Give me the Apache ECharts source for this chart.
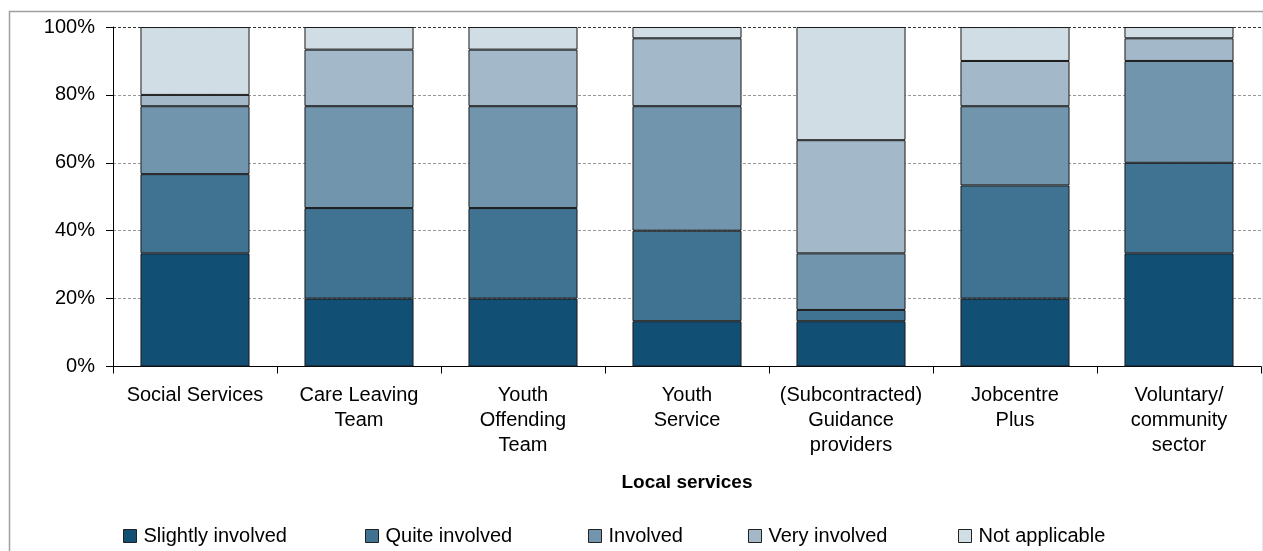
<!DOCTYPE html>
<html>
<head>
<meta charset="utf-8">
<script src="https://cdn.jsdelivr.net/npm/echarts@6/dist/echarts.min.js"></script>
<style>
	html, body { margin: 0; padding: 0; background: #fff; }
	#chartDiv { width: 1263px; height: 551px; }
</style>
</head>
<body>
<div id="chartDiv"></div>
<script>
// categories (line breaks as in the original labels)
const categories = ['Social Services', 'Care Leaving\nTeam', 'Youth\nOffending\nTeam', 'Youth\nService',
	'(Subcontracted)\nGuidance\nproviders', 'Jobcentre\nPlus', 'Voluntary/\ncommunity\nsector'];

// percentages per category, bottom to top
const slightlyInvolved = [33.33, 20, 20, 13.33, 13.33, 20, 33.33];
const quiteInvolved = [23.33, 26.67, 26.67, 26.67, 3.33, 33.33, 26.67];
const involved = [20, 30, 30, 36.67, 16.67, 23.33, 30];
const veryInvolved = [3.33, 16.67, 16.67, 20, 33.33, 13.33, 6.67];
const notApplicable = [20, 6.66, 6.66, 3.33, 33.34, 10, 3.33];

const seriesNames = ['Slightly involved', 'Quite involved', 'Involved', 'Very involved', 'Not applicable'];
const seriesData = [slightlyInvolved, quiteInvolved, involved, veryInvolved, notApplicable];
const seriesColors = ['#114f74', '#407291', '#7295ae', '#a3b8c8', '#d0dde4'];
const legendLeft = [118, 360, 583, 743, 953];

const font = "'Liberation Sans', Arial, sans-serif";

let chart = echarts.init(document.getElementById('chartDiv'));
let option = {
	animation: false,
	color: seriesColors,
	textStyle: { fontFamily: font, color: '#000' },
	graphic: [{
		type: 'rect',
		left: 7, top: 9,
		shape: { width: 1254, height: 600 },
		style: { fill: 'none', stroke: '#a0a0a0', lineWidth: 1.5 },
		silent: true
	}],
	grid: { left: 113, right: 2, top: 27, bottom: 184.5 },
	legend: seriesNames.map((n, i) => ({
		data: [n],
		left: legendLeft[i],
		top: 521,
		icon: 'rect',
		itemWidth: 13,
		itemHeight: 13,
		itemGap: 0,
		selectedMode: false,
		itemStyle: { borderColor: '#222', borderWidth: 1 },
		textStyle: { fontFamily: font, fontSize: 20, color: '#000', padding: [0, 0, 0, 2] }
	})),
	xAxis: {
		type: 'category',
		data: categories,
		boundaryGap: true,
		name: 'Local services',
		nameLocation: 'middle',
		nameGap: 107,
		nameTextStyle: { fontFamily: font, fontSize: 19, fontWeight: 'bold', color: '#000' },
		axisLine: { lineStyle: { color: '#000', width: 1 } },
		axisTick: { show: true, length: 7, lineStyle: { color: '#000' } },
		axisLabel: { interval: 0, margin: 16, fontSize: 20, lineHeight: 25, color: '#000', fontFamily: font }
	},
	yAxis: {
		type: 'value',
		min: 0,
		max: 100,
		interval: 20,
		axisLine: { show: true, lineStyle: { color: '#000', width: 1 } },
		axisTick: { show: true, length: 7, lineStyle: { color: '#000' } },
		axisLabel: { formatter: '{value}%', margin: 18, fontSize: 20, color: '#000', fontFamily: font },
		splitLine: {
			show: true,
			lineStyle: { color: ['#999', '#999', '#999', '#999', '#999', '#333'], type: [3, 2], width: 1 }
		}
	},
	series: seriesNames.map((n, i) => ({
		name: n,
		type: 'bar',
		stack: 'total',
		data: seriesData[i],
		barCategoryGap: '33.5%',
		itemStyle: { color: seriesColors[i], borderColor: '#1a1a1a', borderWidth: 1 }
	}))
};
chart.setOption(option);
</script>
</body>
</html>
